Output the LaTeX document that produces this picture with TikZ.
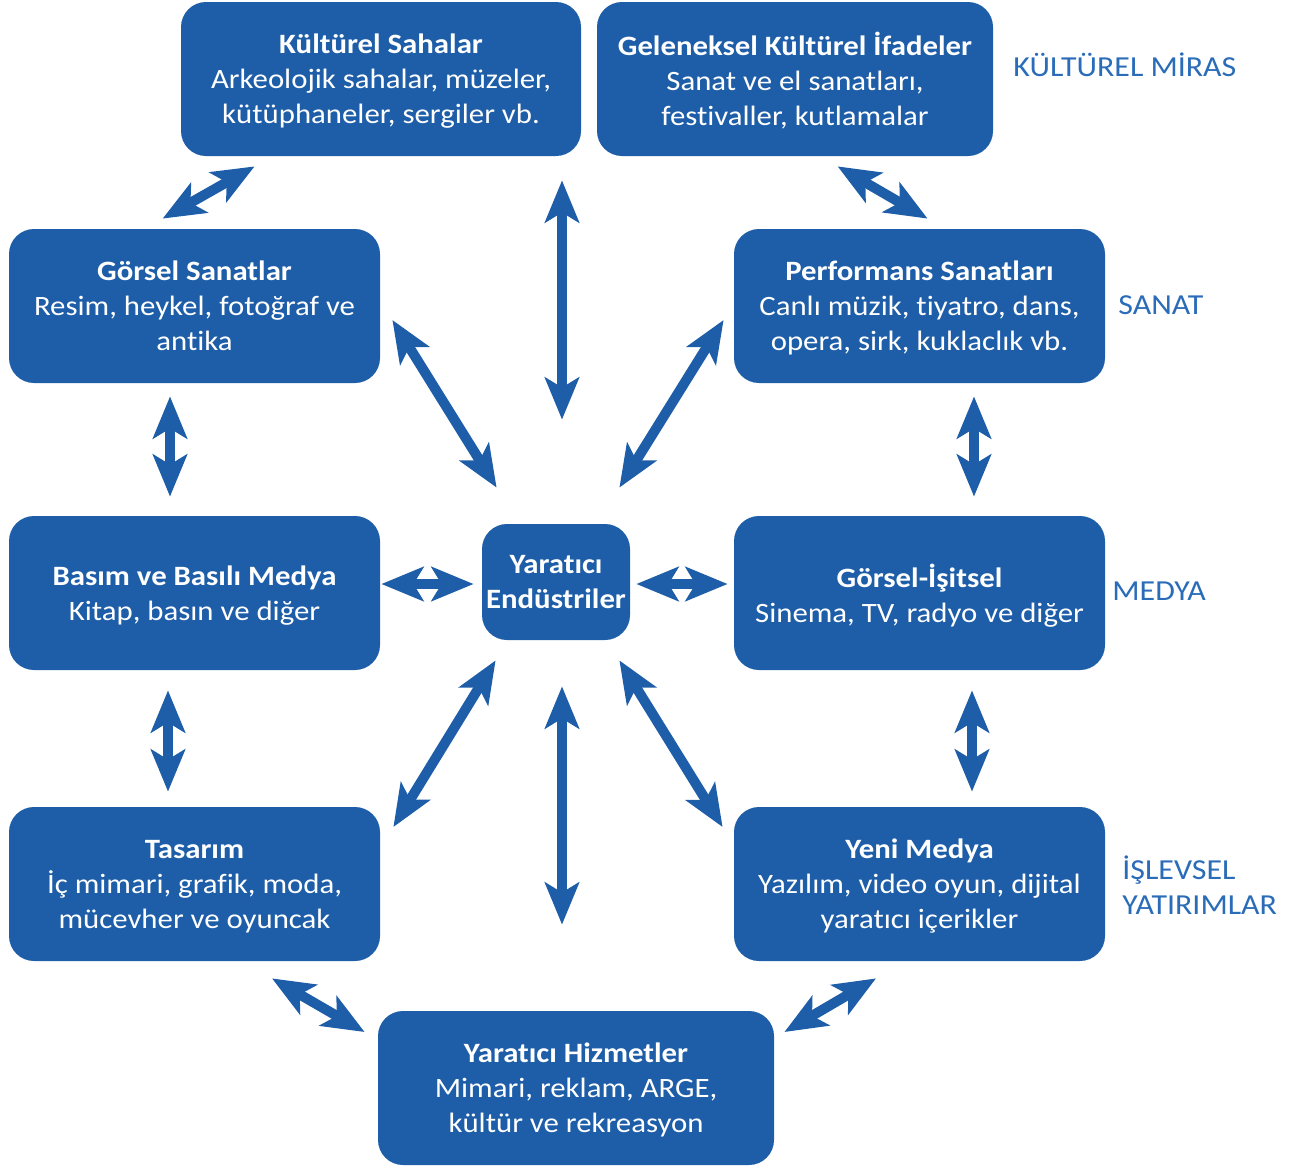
\documentclass[tikz,border=0pt]{standalone}
\usepackage{fontspec}
\setmainfont{Carlito}[Ligatures=NoCommon,FakeStretch=1.1]
\usetikzlibrary{arrows.meta,calc}
\definecolor{boxblue}{RGB}{30,94,168}
\definecolor{labelblue}{RGB}{42,108,184}
\tikzset{catbox/.style={fill=boxblue,rounded corners=12.5pt,text=white,align=center,minimum width=185.5pt,minimum height=77pt,inner sep=0pt,text depth=-1pt,font=\fontsize{14}{17.5}\selectfont}}
\tikzset{dblarrow/.style={boxblue,line width=5pt,{Stealth[length=21pt,width=17pt,inset=5pt]}-{Stealth[length=21pt,width=17pt,inset=5pt]}}}
\tikzset{grouplabel/.style={text=labelblue,anchor=west,align=left,inner sep=0pt,font=\fontsize{14.5}{17.5}\selectfont}}

\begin{document}
\begin{tikzpicture}[x=0.5pt,y=-0.5pt]
                  \useasboundingbox (0,0) rectangle (1302,1168);
                  \node[catbox,minimum width=200pt] (ks) at (381,79) {\textbf{Kültürel Sahalar}\\Arkeolojik sahalar, müzeler,\\kütüphaneler, sergiler vb.};
                  \node[catbox,minimum width=198pt] (gk) at (795,79) {\textbf{Geleneksel Kültürel İfadeler}\\Sanat ve el sanatları,\\festivaller, kutlamalar};
                  \node[catbox] (gs) at (194.5,306) {\textbf{Görsel Sanatlar}\\Resim, heykel, fotoğraf ve\\antika};
                  \node[catbox] (ps) at (919.5,306) {\textbf{Performans Sanatları}\\Canlı müzik, tiyatro, dans,\\opera, sirk, kuklaclık vb.};
                  \node[catbox] (bm) at (194.5,593) {\textbf{Basım ve Basılı Medya}\\Kitap, basın ve diğer};
                  \node[catbox] (gi) at (919.5,593) {\textbf{Görsel-İşitsel}\\Sinema, TV, radyo ve diğer};
                  \node[catbox] (ts) at (194.5,884) {\textbf{Tasarım}\\İç mimari, grafik, moda,\\mücevher ve oyuncak};
                  \node[catbox] (ym) at (919.5,884) {\textbf{Yeni Medya}\\Yazılım, video oyun, dijital\\yaratıcı içerikler};
                  \node[catbox,minimum width=198pt] (yh) at (576,1088) {\textbf{Yaratıcı Hizmetler}\\Mimari, reklam, ARGE,\\kültür ve rekreasyon};
                  \node[catbox,minimum width=74pt,minimum height=58pt] (ye) at (556,582) {\textbf{Yaratıcı}\\\textbf{Endüstriler}};
                  \draw[dblarrow] ($(ks.south west)+(74,10)$) -- ($(gs.north west)+(154,-10)$);
                  \draw[dblarrow] ($(gk.south west)+(241,10)$) -- ($(ps.north west)+(194,-10)$);
                  \draw[dblarrow] ($(ks.south)+(181,24)$) -- ($(ye.north)+(6,-104)$);
                  \draw[dblarrow] ($(gs.east)+(12,14)$) -- ($(ye.north west)+(15,-36)$);
                  \draw[dblarrow] ($(ps.west)+(-10,14)$) -- ($(ye.north east)+(-11,-36)$);
                  \draw[dblarrow] ($(gs.south)+(-24.5,13)$) -- ($(bm.north)+(-24.5,-19)$);
                  \draw[dblarrow] ($(ps.south)+(54.5,13)$) -- ($(gi.north)+(54.5,-19)$);
                  \draw[dblarrow] ($(bm.east)+(1,-9)$) -- ($(ye.west)+(-8,2)$);
                  \draw[dblarrow] ($(ye.east)+(6,2)$) -- ($(gi.west)+(-6,-9)$);
                  \draw[dblarrow] ($(bm.south)+(-26.5,20)$) -- ($(ts.north)+(-26.5,-15)$);
                  \draw[dblarrow] ($(gi.south)+(52.5,20)$) -- ($(ym.north)+(52.5,-15)$);
                  \draw[dblarrow] ($(ye.south west)+(14,20)$) -- ($(ts.east)+(13,-57)$);
                  \draw[dblarrow] ($(ye.south east)+(-11,20)$) -- ($(ym.west)+(-11,-57)$);
                  \draw[dblarrow] ($(ye.south)+(6,46)$) -- ($(yh.north)+(-14,-86)$);
                  \draw[dblarrow] ($(ts.south)+(77.5,17)$) -- ($(yh.west)+(-13,-56)$);
                  \draw[dblarrow] ($(ym.south)+(-43.5,17)$) -- ($(yh.east)+(10,-56)$);
                  \node[grouplabel] (lmiras) at (1013,65) {KÜLTÜREL MİRAS};
                  \node[grouplabel] (lsanat) at (1118,305) {SANAT};
                  \node[grouplabel] (lmedya) at (1112,591) {MEDYA};
                  \node[grouplabel] (lislev) at (1122,885) {İŞLEVSEL\\YATIRIMLAR};
              \end{tikzpicture}
\end{document}
